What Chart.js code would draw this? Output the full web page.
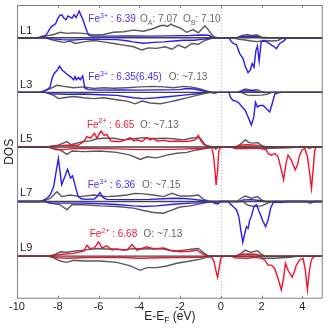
<!DOCTYPE html>
<html>
<head>
<meta charset="utf-8">
<script src="https://cdn.jsdelivr.net/npm/chart.js@4.4.0/dist/chart.umd.min.js"></script>
<style>
  html, body { margin: 0; padding: 0; background: #fff; }
  #wrap { width: 332px; height: 336px; }
</style>
</head>
<body>
<div id="wrap"><canvas id="dosChart" width="332" height="336"></canvas></div>
<script>
// Panels (layers), top to bottom
const panels = ['L1', 'L3', 'L5', 'L7', 'L9'];
const xTicks = [-10, -8, -6, -4, -2, 0, 2, 4];

// DOS curves: [E - E_F (eV), DOS]; spin down is negative
const l1FeUp = [[-10,0],[-9.0,0],[-8.9,0.1],[-8.75,0.3],[-8.6,0.4],[-8.5,0.9],[-8.4,1.6],[-8.3,2.1],[-8.2,2.3],[-8.1,2.6],[-8.0,3.5],[-7.9,4.1],[-7.8,4.2],[-7.7,3.6],[-7.6,3.3],[-7.5,4.0],[-7.4,3.8],[-7.3,3.6],[-7.2,4.2],[-7.1,3.7],[-7.0,4.5],[-6.95,4.9],[-6.85,4.0],[-6.75,3.2],[-6.65,2.0],[-6.55,1.0],[-6.45,0.4],[-6.3,0.3],[-5.5,0.3],[-4.5,0.35],[-3.5,0.3],[-2.5,0.35],[-1.5,0.4],[-0.9,0.5],[-0.6,0.45],[-0.4,0.1],[-0.2,0],[0.8,0],[1.0,0.2],[1.4,0.3],[1.8,0.2],[2.0,0],[5,0]];
const l1FeDn = [[-10,0],[-8.6,0],[-8.3,-0.2],[-7.8,-0.35],[-7.2,-0.4],[-6.8,-0.3],[-6.2,-0.25],[-5.9,-0.3],[-5.1,-0.35],[-4.6,-0.55],[-4.3,-0.75],[-3.8,-1.0],[-3.3,-0.85],[-2.8,-0.75],[-2.3,-0.6],[-1.8,-0.45],[-1.3,-0.45],[-0.85,-0.25],[-0.4,0],[0.4,0],[0.5,-0.6],[0.6,-1.0],[0.77,-1.3],[0.93,-2.9],[1.09,-3.8],[1.21,-5.3],[1.34,-6.4],[1.45,-5.9],[1.54,-4.7],[1.63,-5.4],[1.72,-2.4],[1.8,-1.5],[1.88,-4.3],[1.98,-0.8],[2.1,-0.6],[2.24,-0.7],[2.48,-1.3],[2.6,-1.6],[2.73,-2.0],[2.9,-1.0],[3.05,-0.7],[3.22,-0.1],[3.4,0],[5,0]];
const l1OUp = [[-10,0],[-8.9,0],[-8.53,0.35],[-8.2,0.6],[-7.88,1.0],[-7.55,0.8],[-7.22,0.9],[-6.73,0.8],[-6.24,0.5],[-5.75,0.6],[-5.26,1.0],[-4.77,1.1],[-4.28,1.4],[-3.79,1.2],[-3.3,1.7],[-2.97,2.2],[-2.81,2.3],[-2.6,2.1],[-2.45,2.5],[-2.3,2.2],[-2.0,1.8],[-1.67,1.0],[-1.36,1.5],[-1.1,0.9],[-0.78,2.2],[-0.6,1.4],[-0.45,0.6],[-0.3,0.1],[-0.1,0],[0.8,0],[1.0,0.4],[1.3,0.6],[1.5,0.4],[1.8,0.5],[2.0,0.1],[2.3,0],[5,0]];
const l1ODn = [[-10,0],[-8.8,0],[-8.53,-0.1],[-8.2,-0.45],[-7.71,-0.85],[-7.39,-0.6],[-7.14,-1.05],[-6.73,-0.75],[-6.24,-0.5],[-5.75,-0.75],[-5.26,-1.05],[-4.77,-1.35],[-4.28,-1.65],[-3.87,-2.25],[-3.55,-1.85],[-3.14,-1.95],[-2.73,-1.65],[-2.4,-2.1],[-2.08,-1.35],[-1.75,-1.85],[-1.42,-1.05],[-1.1,-1.2],[-0.77,-0.45],[-0.44,-0.1],[-0.2,0],[0.6,0],[0.9,-0.3],[1.2,-0.4],[1.5,-0.6],[1.8,-0.7],[2.1,-0.5],[2.5,-0.6],[2.8,-0.5],[3.0,-0.1],[3.2,0],[5,0]];

const l3FeUp = [[-10,0],[-8.9,0],[-8.7,0.2],[-8.53,0.5],[-8.38,0.9],[-8.28,2.6],[-8.17,3.5],[-8.04,4.0],[-7.91,4.8],[-7.79,4.1],[-7.63,3.6],[-7.47,3.1],[-7.35,2.8],[-7.22,2.3],[-7.15,2.9],[-7.09,2.3],[-6.98,2.7],[-6.9,2.3],[-6.78,3.0],[-6.67,0.8],[-6.5,0.5],[-6.0,0.4],[-5.0,0.45],[-4.0,0.4],[-3.0,0.45],[-2.0,0.5],[-1.7,0.7],[-1.3,0.6],[-0.9,0.3],[-0.6,0],[0.9,0],[1.1,0.25],[1.6,0.3],[1.9,0],[5,0]];
const l3FeDn = [[-10,0],[-8.6,0],[-8.37,-0.25],[-7.55,-0.35],[-6.73,-0.3],[-5.92,-0.45],[-5.1,-0.55],[-4.28,-1.0],[-3.79,-1.15],[-3.14,-1.0],[-2.48,-0.75],[-1.83,-0.5],[-1.18,-0.25],[-0.8,0],[0.4,0],[0.47,-0.9],[0.6,-1.5],[0.75,-1.6],[0.9,-2.0],[1.05,-2.7],[1.2,-3.3],[1.34,-4.5],[1.5,-6.0],[1.62,-4.5],[1.7,-1.8],[1.8,-2.7],[1.91,-2.4],[2.08,-2.4],[2.24,-3.0],[2.4,-3.6],[2.52,-2.1],[2.65,-0.3],[2.8,-0.1],[3.0,0],[5,0]];
const l3OUp = [[-10,0],[-8.9,0],[-8.7,0.2],[-8.37,0.7],[-8.04,1.3],[-7.71,1.1],[-7.22,0.85],[-6.73,1.0],[-6.24,0.7],[-5.75,0.85],[-5.26,0.75],[-4.61,0.85],[-3.95,1.0],[-3.3,1.1],[-2.81,1.0],[-2.32,0.85],[-1.83,1.1],[-1.5,1.0],[-1.1,0.7],[-0.69,0.25],[-0.4,0],[0.8,0],[1.0,0.3],[1.2,0.6],[1.5,0.4],[1.8,0.5],[2.0,0.1],[2.2,0],[5,0]];
const l3ODn = [[-10,0],[-8.7,0],[-8.5,-0.1],[-8.2,-0.55],[-7.96,-1.15],[-7.71,-1.0],[-7.22,-0.75],[-6.73,-1.0],[-6.24,-1.15],[-5.75,-1.0],[-5.1,-1.35],[-4.61,-1.6],[-4.2,-2.1],[-3.87,-1.6],[-3.46,-1.95],[-2.97,-2.1],[-2.57,-1.8],[-2.16,-1.45],[-1.67,-1.0],[-1.18,-0.55],[-0.85,-0.25],[-0.5,0],[-0.3,-0.2],[-0.15,0],[1.0,0],[1.3,-0.5],[1.6,-0.55],[2.0,-0.5],[2.3,-0.3],[2.5,0],[5,0]];

const l5FeUp = [[-10,0],[-8.5,0],[-8.3,0.2],[-7.5,0.3],[-7.0,0.3],[-6.73,1.0],[-6.57,1.9],[-6.4,1.6],[-6.2,2.5],[-6.08,1.6],[-5.88,2.9],[-5.72,2.1],[-5.59,2.3],[-5.4,1.1],[-5.18,1.0],[-4.93,1.0],[-4.69,1.3],[-4.44,1.7],[-4.28,1.1],[-4.12,1.3],[-3.87,1.0],[-3.63,1.7],[-3.46,1.3],[-3.3,1.6],[-3.14,1.1],[-2.81,1.2],[-2.48,1.0],[-2.16,1.1],[-1.83,1.0],[-1.5,1.1],[-1.26,1.3],[-1.1,2.1],[-0.98,1.1],[-0.85,0.5],[-0.69,0.1],[-0.5,0],[0.7,0],[0.9,0.3],[1.3,0.4],[1.6,0.35],[1.9,0.2],[2.1,0],[5,0]];
const l5FeDn = [[-10,0],[-8.5,0],[-8.2,-0.4],[-7.9,-0.55],[-7.55,-0.4],[-6.73,-0.25],[-5.1,-0.35],[-4.0,-0.5],[-3.0,-0.5],[-2.0,-0.4],[-1.0,-0.3],[-0.6,-0.1],[-0.45,-0.2],[-0.36,-1.5],[-0.28,-4.5],[-0.23,-7.0],[-0.16,-4.5],[-0.1,-0.8],[-0.03,-0.1],[0.5,0],[0.7,-0.3],[1.3,-0.3],[1.6,-0.2],[2.0,-0.3],[2.24,-0.55],[2.32,-1.2],[2.48,-1.5],[2.65,-1.2],[2.81,-1.8],[2.97,-4.2],[3.08,-6.0],[3.2,-3.0],[3.3,-1.5],[3.46,-2.4],[3.65,-4.2],[3.76,-3.3],[3.87,-1.5],[3.99,-0.55],[4.12,-0.3],[4.25,-1.8],[4.36,-4.8],[4.45,-7.6],[4.53,-4.2],[4.61,-0.55],[4.69,0],[5,0]];
const l5OUp = [[-10,0],[-8.4,0],[-8.04,0.25],[-7.55,1.0],[-7.35,0.4],[-7.06,0.7],[-6.73,1.0],[-6.4,1.1],[-6.08,1.5],[-5.75,1.6],[-5.26,1.6],[-4.77,1.3],[-4.28,1.5],[-3.79,1.7],[-3.3,1.5],[-2.81,1.6],[-2.32,1.5],[-1.83,1.3],[-1.5,1.6],[-1.18,1.7],[-1.01,1.6],[-0.77,0.4],[-0.5,0.05],[-0.3,0],[0.8,0],[1.0,0.6],[1.2,1.3],[1.4,0.8],[1.6,0.7],[1.8,0.8],[2.0,0.3],[2.2,0],[5,0]];
const l5ODn = [[-10,0],[-8.4,0],[-7.88,-0.55],[-7.55,-1.35],[-7.3,-0.75],[-6.73,-0.85],[-5.92,-0.75],[-5.1,-1.0],[-4.44,-1.5],[-3.95,-2.3],[-3.63,-1.8],[-3.14,-2.0],[-2.65,-1.5],[-2.16,-1.15],[-1.67,-1.0],[-1.18,-0.55],[-0.69,-0.25],[-0.4,0],[-0.25,-0.4],[-0.1,0],[1.5,0],[2.0,-0.3],[2.5,-0.25],[3.0,-0.2],[3.5,-0.1],[3.8,0],[4.2,0],[4.35,-0.3],[4.5,0],[5,0]];

const l7FeUp = [[-10,0],[-8.9,0],[-8.77,0.1],[-8.53,0.6],[-8.37,1.2],[-8.2,2.7],[-8.1,5.0],[-7.97,7.9],[-7.81,3.1],[-7.65,4.6],[-7.52,5.9],[-7.37,4.3],[-7.27,4.7],[-7.11,2.4],[-7.0,0.9],[-6.84,0.5],[-6.6,0.4],[-6.2,0.45],[-6.05,1.0],[-5.93,1.65],[-5.8,0.8],[-5.6,0.4],[-4.5,0.35],[-3.5,0.4],[-2.8,0.5],[-2.3,0.6],[-1.8,0.55],[-1.3,0.4],[-0.9,0.2],[-0.6,0],[0.9,0],[1.1,0.3],[1.5,0.35],[1.9,0.2],[2.1,0],[5,0]];
const l7FeDn = [[-10,0],[-8.6,0],[-8.37,-0.3],[-6.73,-0.3],[-5.9,-0.4],[-5.1,-0.55],[-4.28,-0.8],[-3.79,-0.9],[-3.14,-0.8],[-2.32,-0.5],[-1.5,-0.3],[-0.85,-0.2],[-0.5,0],[-0.3,-0.2],[-0.15,-0.5],[0,0],[0.35,0],[0.44,-0.3],[0.6,-0.9],[0.77,-1.5],[0.88,-2.7],[0.98,-5.2],[1.08,-7.5],[1.18,-5.8],[1.26,-4.6],[1.34,-4.9],[1.42,-3.4],[1.5,-2.7],[1.63,-0.9],[1.75,-0.6],[1.91,-2.1],[2.08,-3.7],[2.2,-4.6],[2.32,-3.4],[2.45,-1.2],[2.57,-0.2],[2.75,-0.1],[3.0,-0.2],[3.2,0],[5,0]];
const l7OUp = [[-10,0],[-8.9,0],[-8.6,0.2],[-8.37,0.6],[-8.04,1.8],[-7.8,0.9],[-7.39,1.2],[-6.9,0.9],[-6.24,1.2],[-5.59,0.9],[-5.1,1.0],[-4.61,1.2],[-4.2,1.5],[-3.79,1.4],[-3.3,1.2],[-2.81,0.9],[-2.4,1.5],[-2.0,1.0],[-1.5,1.0],[-1.1,1.2],[-0.85,0.4],[-0.6,0.1],[-0.4,0],[0.8,0],[1.0,0.6],[1.2,1.0],[1.5,0.6],[1.8,0.9],[2.0,0.3],[2.2,0],[5,0]];
const l7ODn = [[-10,0],[-8.7,0],[-8.37,-0.3],[-7.88,-0.6],[-7.55,-1.5],[-7.3,-0.6],[-6.73,-0.6],[-5.92,-0.8],[-5.1,-0.9],[-4.28,-1.2],[-3.79,-1.65],[-3.3,-2.0],[-2.81,-2.15],[-2.48,-1.65],[-2.0,-1.0],[-1.5,-0.8],[-0.85,-0.3],[-0.5,0],[-0.25,-0.4],[-0.1,0],[1.1,0],[1.3,-0.6],[1.6,-0.9],[2.0,-0.8],[2.3,-0.3],[2.5,0],[4.2,0],[4.4,-0.3],[4.6,0],[5,0]];

const l9FeUp = [[-10,0],[-8.5,0],[-8.2,0.15],[-7.88,0.3],[-7.22,0.5],[-6.73,0.9],[-6.57,2.0],[-6.44,1.4],[-6.2,1.5],[-6.0,2.6],[-5.83,1.5],[-5.59,1.9],[-5.34,1.1],[-5.1,1.3],[-4.61,1.1],[-4.36,2.1],[-4.12,1.1],[-3.87,1.4],[-3.63,1.7],[-3.3,1.3],[-2.81,1.5],[-2.48,1.1],[-1.99,0.8],[-1.5,0.9],[-1.18,1.1],[-0.85,0.3],[-0.6,0],[0.7,0],[0.9,0.3],[1.3,0.4],[1.7,0.35],[2.0,0.1],[2.2,0],[5,0]];
const l9FeDn = [[-10,0],[-8.5,0],[-8.0,-0.3],[-7.55,-0.4],[-6.5,-0.25],[-5.1,-0.2],[-4.0,-0.4],[-3.0,-0.3],[-2.0,-0.25],[-1.0,-0.2],[-0.6,-0.1],[-0.45,-0.2],[-0.33,-1.0],[-0.25,-2.5],[-0.16,-3.9],[-0.08,-2.2],[0,-0.4],[0.08,-0.1],[0.5,0],[0.7,-0.3],[1.3,-0.4],[1.7,-0.2],[2.0,-0.4],[2.16,-0.7],[2.32,-1.65],[2.48,-1.65],[2.65,-2.3],[2.81,-4.1],[2.97,-6.2],[3.09,-3.8],[3.17,-1.3],[3.3,-2.6],[3.5,-3.9],[3.6,-2.9],[3.71,-1.65],[3.87,-0.7],[4.04,-0.4],[4.15,-2.6],[4.25,-6.2],[4.35,-2.6],[4.44,-0.7],[4.53,-0.25],[4.65,0],[5,0]];
const l9OUp = [[-10,0],[-8.5,0],[-8.2,0.2],[-7.88,0.8],[-7.55,0.7],[-7.22,0.9],[-6.73,1.1],[-6.08,1.4],[-5.75,1.3],[-5.26,1.3],[-4.77,1.1],[-4.28,1.4],[-3.79,1.3],[-3.3,1.4],[-2.81,1.3],[-2.32,0.9],[-1.83,1.1],[-1.34,1.3],[-1.1,1.4],[-0.85,0.6],[-0.6,0.05],[-0.4,0],[0.8,0],[1.0,0.5],[1.2,1.1],[1.45,0.7],[1.6,0.8],[1.8,1.0],[2.0,0.3],[2.2,0],[5,0]];
const l9ODn = [[-10,0],[-8.5,0],[-8.2,-0.3],[-7.88,-0.9],[-7.55,-1.15],[-7.22,-0.75],[-6.73,-0.9],[-5.92,-0.9],[-5.1,-1.15],[-4.44,-1.8],[-3.95,-2.6],[-3.63,-2.1],[-3.14,-2.1],[-2.65,-1.8],[-2.16,-1.3],[-1.5,-0.9],[-1.0,-0.55],[-0.6,-0.1],[-0.4,0],[1.9,0],[2.1,-0.4],[2.6,-0.4],[3.0,-0.3],[3.4,-0.2],[3.8,0],[5,0]];

const feUp = [l1FeUp, l3FeUp, l5FeUp, l7FeUp, l9FeUp];
const feDn = [l1FeDn, l3FeDn, l5FeDn, l7FeDn, l9FeDn];
const oUp = [l1OUp, l3OUp, l5OUp, l7OUp, l9OUp];
const oDn = [l1ODn, l3ODn, l5ODn, l7ODn, l9ODn];

// Bader charges written in each panel
const feIon = ['3+', '3+', '2+', '3+', '2+'];
const feCharge = ['6.39', '6.35(6.45)', '6.65', '6.36', '6.68'];
const oCharge = [
  [['O', ''], ['A', 'sub'], [': 7.07  ', ''], ['O', ''], ['B', 'sub'], [': 7.10', '']],
  [['O: ~7.13', '']],
  [['O: ~7.13', '']],
  [['O: ~7.15', '']],
  [['O: ~7.13', '']]
];

// layout / style
const panelOffset = [40, 30, 20, 10, 0];
const BLUE = '#2a1cf2', RED = '#f0142f', GRAY = '#585858';
const feLineColor = [BLUE, BLUE, RED, BLUE, RED];
const feTextColor = ['#4534ee', '#4534ee', '#ee1c3c', '#4534ee', '#ee1c3c'];
const noteX = [-6.5, -6.5, -6.57, -6.53, -6.43];
const noteDy = [2.93, 2.2, 3.54, 2.46, 3.54];
const oNoteX = [-3.96, -2.56, -3.96, -3.87, -3.79];
const labelDy = [0.6, 0.85, 0.95, 1.0, 0.9];
const FONT = "'Liberation Sans', Arial, sans-serif";

function shift(arr, off) {
  return arr.map(p => ({ x: p[0], y: p[1] + off }));
}

function line(data, color, order) {
  return {
    data: data, borderColor: color, borderWidth: 1.4,
    pointRadius: 0, tension: 0, fill: false, order: order
  };
}

const datasets = [];
panels.forEach((p, i) => {
  const off = panelOffset[i];
  datasets.push(line(shift([[-10, 0], [5, 0]], off), '#444', 0));
  datasets.push(line(shift(feUp[i], off), feLineColor[i], 1));
  datasets.push(line(shift(feDn[i], off), feLineColor[i], 1));
  datasets.push(line(shift(oUp[i], off), GRAY, 2));
  datasets.push(line(shift(oDn[i], off), GRAY, 2));
});

// text with sub/superscripts
function drawRich(ctx, x, y, parts, color, size) {
  ctx.fillStyle = color;
  ctx.textBaseline = 'alphabetic';
  ctx.textAlign = 'left';
  parts.forEach(([txt, kind]) => {
    let dy = 0, fs = size;
    if (kind === 'sup') { fs = size * 0.7; dy = -size * 0.42; }
    if (kind === 'sub') { fs = size * 0.7; dy = size * 0.28; }
    ctx.font = fs + 'px ' + FONT;
    ctx.fillText(txt, x, y + dy);
    x += ctx.measureText(txt).width;
  });
  return x;
}

function richWidth(ctx, parts, size) {
  let w = 0;
  parts.forEach(([txt, kind]) => {
    const fs = kind ? size * 0.7 : size;
    ctx.font = fs + 'px ' + FONT;
    w += ctx.measureText(txt).width;
  });
  return w;
}

const decorPlugin = {
  id: 'decor',
  beforeDatasetsDraw(chart) {
    const { ctx, chartArea: a, scales: { x } } = chart;
    const x0 = Math.round(x.getPixelForValue(0)) + 0.5;
    ctx.save();
    ctx.strokeStyle = '#bdbdbd';
    ctx.lineWidth = 1;
    ctx.setLineDash([1, 2]);
    ctx.beginPath();
    ctx.moveTo(x0, a.top);
    ctx.lineTo(x0, a.bottom);
    ctx.stroke();
    ctx.restore();
  },
  afterDraw(chart) {
    const { ctx, chartArea: a, scales: { x, y } } = chart;
    ctx.save();
    // frame and inward ticks
    ctx.strokeStyle = '#808080';
    ctx.lineWidth = 1;
    ctx.strokeRect(a.left + 0.5, a.top + 0.5, a.right - a.left - 1, a.bottom - a.top - 1);
    ctx.beginPath();
    xTicks.forEach(v => {
      const px = Math.round(x.getPixelForValue(v)) + 0.5;
      ctx.moveTo(px, a.top); ctx.lineTo(px, a.top + 3);
      ctx.moveTo(px, a.bottom); ctx.lineTo(px, a.bottom - 3);
    });
    ctx.stroke();

    // panel labels and charges
    panels.forEach((p, i) => {
      const off = panelOffset[i];
      ctx.font = '11px ' + FONT;
      ctx.fillStyle = '#222';
      ctx.textAlign = 'left';
      ctx.textBaseline = 'alphabetic';
      ctx.fillText(p, x.getPixelForValue(-9.85), y.getPixelForValue(off + labelDy[i]));
      const ty = y.getPixelForValue(off + noteDy[i]);
      drawRich(ctx, x.getPixelForValue(noteX[i]), ty,
        [['Fe', ''], [feIon[i], 'sup'], [' : ' + feCharge[i], '']], feTextColor[i], 10);
      drawRich(ctx, x.getPixelForValue(oNoteX[i]), ty, oCharge[i], '#666', 10);
    });

    // axis titles
    const xt = [['E-E', ''], ['F', 'sub'], [' (eV)', '']];
    const cx = (a.left + a.right) / 2;
    drawRich(ctx, cx - richWidth(ctx, xt, 12) / 2, 320, xt, '#222', 12);

    ctx.translate(10, (a.top + a.bottom) / 2);
    ctx.rotate(-Math.PI / 2);
    ctx.font = '12px ' + FONT;
    ctx.fillStyle = '#222';
    ctx.textAlign = 'center';
    ctx.textBaseline = 'middle';
    ctx.fillText('DOS', 0, 0);
    ctx.restore();
  }
};

new Chart(document.getElementById('dosChart'), {
  type: 'line',
  data: { datasets: datasets },
  options: {
    responsive: false,
    animation: false,
    devicePixelRatio: 1,
    layout: { padding: { left: 17, right: 9.3, top: 5, bottom: 0 } },
    plugins: { legend: { display: false }, tooltip: { enabled: false } },
    scales: {
      x: {
        type: 'linear', min: -10, max: 5,
        afterBuildTicks: s => { s.ticks = xTicks.map(v => ({ value: v })); },
        afterFit: s => { s.height = 37.3; },
        grid: { display: false, drawTicks: false },
        border: { display: false },
        ticks: { padding: 2, color: '#222', font: { size: 11, family: FONT }, maxRotation: 0 }
      },
      y: {
        type: 'linear', min: -7.8, max: 46, display: false
      }
    }
  },
  plugins: [decorPlugin]
});
</script>
</body>
</html>
